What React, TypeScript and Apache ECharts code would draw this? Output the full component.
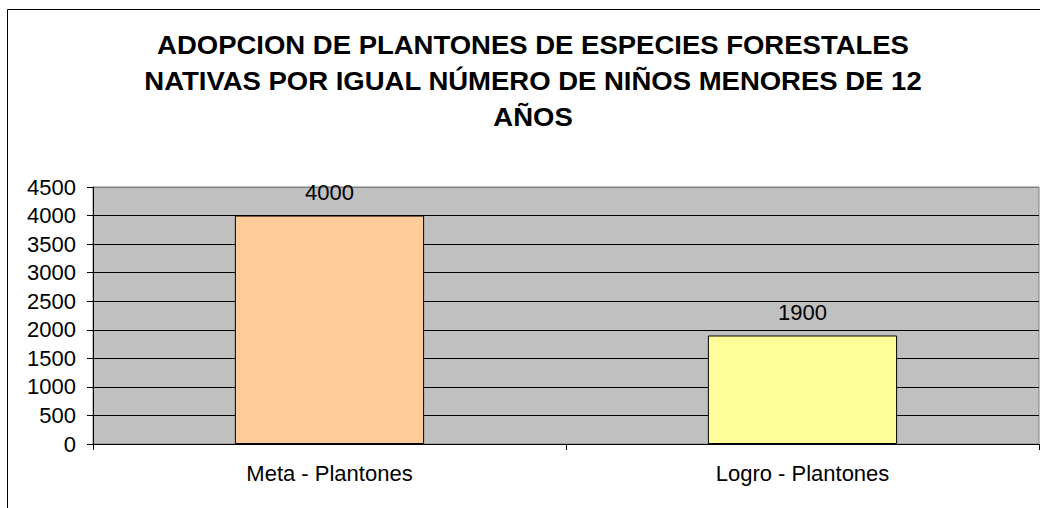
import React, { useEffect, useRef } from "react";
import * as echarts from "echarts";

const titleLines = [
  "ADOPCION DE PLANTONES DE ESPECIES FORESTALES",
  "NATIVAS POR IGUAL NÚMERO DE NIÑOS MENORES DE 12",
  "AÑOS",
];
const categories = ["Meta - Plantones", "Logro - Plantones"];
const values = [4000, 1900];
const barColors = ["#FFCC99", "#FFFF99"];

const FONT = "Arial, 'Liberation Sans', sans-serif";

export default function App() {
  const ref = useRef<HTMLDivElement>(null);
  useEffect(() => {
    if (!ref.current) return;
    const chart = echarts.init(ref.current, null, { renderer: "svg" });
    const splitColors = Array.from({ length: 10 }, (_, i) => (i === 9 ? "#808080" : "#000000"));
    const titleY = [45, 81, 117];
    chart.setOption({
      animation: false,
      backgroundColor: "#FFFFFF",
      graphic: [
        {
          type: "rect",
          shape: { x: 7.5, y: 9.5, width: 1100, height: 600 },
          style: { fill: "none", stroke: "#000000", lineWidth: 1 },
          silent: true,
          z: 0,
        },
        ...titleLines.map((t, i) => ({
          type: "text",
          x: 533,
          y: titleY[i],
          scaleX: 1.1,
          silent: true,
          style: {
            text: t,
            x: 0,
            y: 0,
            align: "center",
            verticalAlign: "middle",
            fontFamily: FONT,
            fontWeight: "bold",
            fontSize: 25,
            fill: "#000000",
          },
        })),
      ],
      grid: {
        left: 93,
        right: 1,
        top: 187,
        bottom: 64,
        show: true,
        backgroundColor: "#C0C0C0",
        borderColor: "#808080",
        borderWidth: 1,
      },
      xAxis: {
        type: "category",
        data: categories,
        axisLine: { show: true, lineStyle: { color: "#000000", width: 1 } },
        axisTick: { show: true, length: 6, lineStyle: { color: "#000000" } },
        axisLabel: {
          fontFamily: FONT,
          fontSize: 22,
          color: "#000000",
          margin: 18,
        },
      },
      yAxis: {
        type: "value",
        min: 0,
        max: 4500,
        interval: 500,
        axisLine: { show: true, lineStyle: { color: "#000000", width: 1 } },
        axisTick: { show: true, length: 6, lineStyle: { color: "#000000" } },
        axisLabel: {
          fontFamily: FONT,
          fontSize: 22,
          color: "#000000",
          margin: 17,
          formatter: (v: number) => String(v),
        },
        splitLine: { show: true, lineStyle: { color: splitColors, width: 1 } },
      },
      series: [
        {
          type: "bar",
          barWidth: "40%",
          data: values.map((v, i) => ({
            value: v,
            itemStyle: { color: barColors[i], borderColor: "#000000", borderWidth: 1 },
          })),
          label: {
            show: true,
            position: "top",
            distance: 12,
            fontFamily: FONT,
            fontSize: 22,
            color: "#000000",
          },
        },
      ],
    });
    return () => chart.dispose();
  }, []);
  return (
    <div
      ref={ref}
      style={{ position: "absolute", left: 0, top: 0, width: 1040, height: 508 }}
    />
  );
}
